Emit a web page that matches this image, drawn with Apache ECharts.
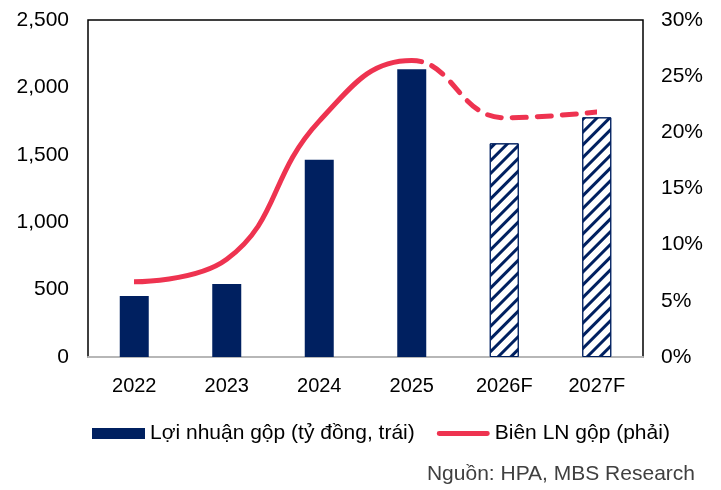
<!DOCTYPE html>
<html>
<head>
<meta charset="utf-8">
<script src="https://cdn.jsdelivr.net/npm/echarts@6/dist/echarts.min.js"></script>
<style>html,body{margin:0;padding:0;background:#fff;}#c{width:721px;height:490px;}</style>
</head>
<body>
<div id="c"></div>
<script>
const categories = ['2022', '2023', '2024', '2025', '2026F', '2027F'];
const grossProfit = [452, 541, 1464, 2134, 1585, 1778];
const grossMargin = [6.7, 8.7, 21.0, 26.4, 21.3, 21.8];
const forecastFlags = [false, false, false, false, true, true];
const leftTicks = [0, 500, 1000, 1500, 2000, 2500];
const rightTicks = [0, 5, 10, 15, 20, 25, 30];

const NAVY = '#002060';
const RED = '#EE3350';
const CLEAR = 'rgba(238,51,80,0)';
const FONT = '"Liberation Sans", Arial, sans-serif';

const barData = grossProfit.map((v, i) => forecastFlags[i] ? {
  value: v,
  itemStyle: {
    color: '#ffffff',
    borderColor: NAVY,
    borderWidth: 1,
    decal: {
      symbol: 'rect',
      symbolSize: 1,
      dashArrayX: [1, 0],
      dashArrayY: [3, 5.5],
      rotation: -Math.PI / 4,
      color: NAVY
    }
  }
} : { value: v });

const lastActual = forecastFlags.indexOf(true) - 1;

const chart = echarts.init(document.getElementById('c'), null, { renderer: 'canvas' });
chart.setOption({
  animation: false,
  textStyle: { fontFamily: FONT },
  grid: {
    left: 88, right: 78, top: 20, bottom: 133,
    show: true, borderColor: '#000', borderWidth: 1.5, backgroundColor: 'transparent'
  },
  visualMap: [
    {
      type: 'piecewise', show: false, seriesIndex: 1, dimension: 0,
      pieces: [{ gte: 0, lte: lastActual, color: RED }],
      outOfRange: { color: CLEAR }
    },
    {
      type: 'piecewise', show: false, seriesIndex: 2, dimension: 0,
      pieces: [{ gte: lastActual, lte: categories.length - 1, color: RED }],
      outOfRange: { color: CLEAR }
    }
  ],
  legend: {
    left: 87, top: 418,
    itemGap: 22,
    itemWidth: 53, itemHeight: 11,
    textStyle: { fontSize: 21, color: '#000', fontFamily: FONT },
    data: [
      { name: 'Lợi nhuận gộp (tỷ đồng, trái)', icon: 'rect', itemStyle: { color: NAVY } },
      {
        name: 'Biên LN gộp (phải)',
        icon: 'path://M0,0L0.01,0L0.01,0.01Z M0,11L0.01,11L0.01,11.01Z M2.5,3L52.5,3A2.5,2.5,0,0,1,52.5,8L2.5,8A2.5,2.5,0,0,1,2.5,3Z',
        itemStyle: { color: RED, borderWidth: 0 }
      }
    ]
  },
  xAxis: {
    type: 'category',
    data: categories,
    axisLine: { show: true, lineStyle: { color: '#b7b7b7', width: 2 } },
    axisTick: { show: false },
    axisLabel: { fontSize: 20, color: '#000', margin: 19, fontFamily: FONT }
  },
  yAxis: [
    {
      type: 'value', min: 0, max: 2500, interval: 500,
      splitLine: { show: false }, axisLine: { show: false }, axisTick: { show: false },
      axisLabel: {
        fontSize: 21, color: '#000', margin: 19, fontFamily: FONT,
        formatter: v => leftTicks.includes(v) ? v.toLocaleString('en-US') : ''
      }
    },
    {
      type: 'value', min: 0, max: 30, interval: 5,
      splitLine: { show: false }, axisLine: { show: false }, axisTick: { show: false },
      axisLabel: {
        fontSize: 21, color: '#000', margin: 18, fontFamily: FONT,
        formatter: v => rightTicks.includes(v) ? v + '%' : ''
      }
    }
  ],
  series: [
    {
      name: 'Lợi nhuận gộp (tỷ đồng, trái)',
      type: 'bar',
      barWidth: 29,
      itemStyle: { color: NAVY },
      data: barData,
      z: 2
    },
    {
      name: 'Biên LN gộp (phải)',
      type: 'line',
      yAxisIndex: 1,
      smooth: 0.45,
      symbol: 'none',
      lineStyle: { width: 5, cap: 'round' },
      data: grossMargin,
      z: 3
    },
    {
      name: 'Biên LN gộp (phải)',
      type: 'line',
      yAxisIndex: 1,
      smooth: 0.45,
      symbol: 'none',
      lineStyle: { width: 5, type: [14, 11], cap: 'round' },
      data: grossMargin,
      z: 3
    }
  ],
  graphic: [
    {
      type: 'text',
      right: 26, top: 464,
      style: { text: 'Nguồn: HPA, MBS Research', fontSize: 21, fill: '#404040', fontFamily: FONT }
    }
  ]
});
</script>
</body>
</html>
